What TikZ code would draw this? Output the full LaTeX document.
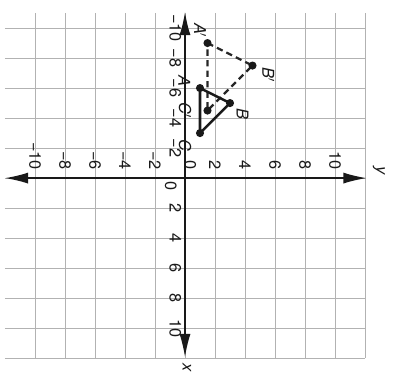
\documentclass[tikz,border=0pt]{standalone}
\usepackage{fontspec}
\setmainfont{TeX Gyre Heros}
\usetikzlibrary{arrows.meta}
\tikzset{
  gridline/.style={draw=black!30, line width=0.75pt},
  axisline/.style={draw=black!90, line width=1.3pt, -{Latex[length=22pt,width=10.5pt]}},
  ticklab/.style={font=\fontsize{15.5}{17}\selectfont, text=black!90, inner sep=0.5pt},
  ptlab/.style={font=\fontsize{15.5}{17}\selectfont\itshape, text=black!90, inner sep=0pt},
  soltri/.style={draw=black!90, line width=2.4pt, line join=round},
  dashtri/.style={draw=black!85, line width=2.2pt, dash pattern=on 6pt off 4pt},
  dotfill/.style={fill=black!90}
}
\begin{document}
\begin{tikzpicture}[x=0.5cm,y=0.5cm,rotate=-90,transform shape]
\useasboundingbox (-11.87,-12.33) rectangle (13.2,13.93);
% grid
\draw[gridline] (-11,-12) grid (12,12);
% axes
\coordinate (O) at (0,0);
\coordinate (xneg) at (-11.07,0);
\coordinate (xpos) at (11.93,0);
\coordinate (yneg) at (0,-12);
\coordinate (ypos) at (0,12.1);
\draw[axisline] (O) -- (xneg);
\draw[axisline] (O) -- (xpos);
\draw[axisline] (O) -- (yneg);
\draw[axisline] (O) -- (ypos);
\node[ptlab] (xlab) at (12.6,0.13) {x};
\node[ptlab] (ylab) at (-0.47,12.93) {y};
% tick labels on x axis
\foreach \k in {-10,-8,-6,-4,-2,2,4,6,8,10}{
  \pgfmathtruncatemacro{\absk}{abs(\k)}
  \ifnum\k<0
    \node[ticklab,anchor=north] (xt\absk n) at (\k,-0.2) {−\absk};
  \else
    \node[ticklab,anchor=north] (xt\k) at (\k,-0.2) {\k};
  \fi
}
\node[ticklab,anchor=north] (xt0) at (0.55,-0.5) {0};
% tick labels on y axis
\foreach \k in {-10,-8,-6,-4,-2,2,4,6,8,10}{
  \pgfmathtruncatemacro{\absk}{abs(\k)}
  \ifnum\k<0
    \node[ticklab,anchor=east] (yt\absk n) at (-0.5,\k) {−\absk};
  \else
    \node[ticklab,anchor=east] (yt\k) at (-0.5,\k) {\k};
  \fi
}
\node[ticklab,anchor=east] (yt0) at (-0.5,0.35) {0};
% points
\coordinate (A) at (-6,1);
\coordinate (B) at (-5,3);
\coordinate (C) at (-3,1);
\coordinate (Ap) at (-9,1.5);
\coordinate (Bp) at (-7.5,4.5);
\coordinate (Cp) at (-4.5,1.5);
\draw[dashtri] (Ap) -- (Bp) -- (Cp) -- cycle;
\draw[soltri] (A) -- (B) -- (C) -- cycle;
\foreach \p in {A,B,C,Ap,Bp,Cp}{
  \fill[dotfill] (\p) circle[radius=0.27];
}
% point labels
\node[ptlab] (lAp) at (-9.85,1.0) {A$'$};
\node[ptlab] (lBp) at (-6.9,5.55) {B$'$};
\node[ptlab] (lCp) at (-4.5,0.0) {C$'$};
\node[ptlab] (lA) at (-6.47,-0.05) {A};
\node[ptlab] (lB) at (-4.3,3.83) {B};
\node[ptlab] (lC) at (-2.2,0.0) {C};
\end{tikzpicture}
\end{document}
